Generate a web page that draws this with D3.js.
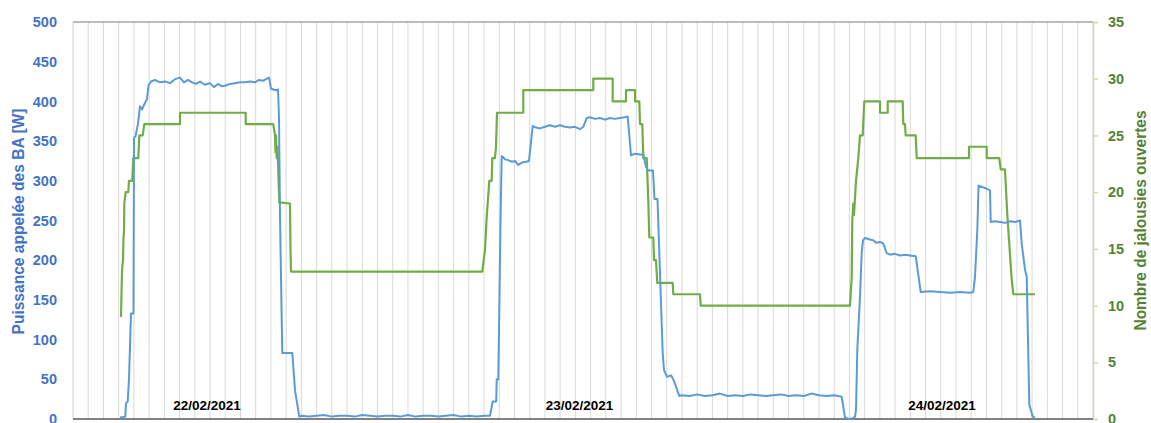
<!DOCTYPE html>
<html><head><meta charset="utf-8">
<script src="https://cdn.jsdelivr.net/npm/d3@7"></script>
<style>
html,body{margin:0;padding:0;background:#fff;}
svg{display:block;font-family:"Liberation Sans",Arial,sans-serif;}
</style></head>
<body><svg id="c" width="1151" height="423"></svg>
<script>
// ---- data ----
const powerHours = [3.087,3.435,3.481,3.593,3.678,3.810,3.974,4.007,4.105,4.270,4.401,4.532,4.729,4.861,4.959,5.124,5.386,5.715,6.043,6.372,6.700,7.028,7.291,7.554,7.817,8.079,8.342,8.671,8.999,9.262,9.524,9.787,10.050,10.313,10.641,10.970,11.298,11.626,11.955,12.218,12.480,12.677,12.875,13.006,13.334,13.466,13.531,13.597,13.748,14.405,14.471,14.582,14.865,
15.0,15.5,16.0,16.5,17.0,17.5,18.0,18.5,19.0,19.5,20.0,20.5,21.0,21.5,22.0,22.5,23.0,23.5,24.0,24.5,25.0,25.5,26.0,26.5,27.0,
27.392,27.569,27.799,27.832,27.937,28.094,28.160,28.245,28.377,28.574,28.837,29.034,29.231,29.494,29.756,29.953,30.196,30.413,30.676,31.004,31.333,31.661,31.989,32.318,32.646,32.974,33.303,33.520,33.743,33.960,34.289,34.617,34.945,35.274,35.602,35.931,36.259,36.436,36.653,36.916,37.244,37.461,37.638,37.769,38.098,38.196,38.393,38.735,38.820,39.017,39.280,39.477,39.825,
40.0,40.5,41.0,41.5,42.0,42.5,43.0,43.5,44.0,44.5,45.0,45.5,46.0,46.5,47.0,47.5,48.0,48.5,49.0,49.5,50.0,
50.491,50.708,50.971,51.234,51.366,51.432,51.517,51.695,51.806,51.892,52.023,52.352,52.569,52.746,53.009,53.226,53.449,53.666,53.994,54.323,54.651,54.980,55.354,55.683,56.294,56.951,57.607,58.264,58.921,59.138,59.249,59.401,59.479,59.906,60.235,60.281,60.564,60.892,61.221,61.549,61.877,62.206,62.318,62.534,62.646,62.817,63.040,63.190];
const powerW = [2,3,20,22,50,133,133,354,356,372,394,390,398,403,420,425,427,424,425,423,428,430,424,427,424,422,425,421,423,418,422,419,420,422,423,424,424,425,424,427,426,428,430,416,414,415,380,255,83,83,66,36,3,
4,3,4,5,3,4,4,3,5,4,3,4,4,3,5,3,4,4,3,4,5,3,4,3,4,
4,22,22,50,50,263,331,330,327,326,324,325,320,323,324,325,369,367,366,368,370,368,370,368,367,368,365,368,379,380,378,379,377,379,378,379,380,381,332,334,333,333,318,313,313,277,277,83,62,53,55,48,29,
30,29,31,29,30,32,29,30,29,31,30,29,30,31,29,30,29,32,30,29,30,
28,2,0,1,3,11,87,154,209,225,228,226,225,222,223,221,209,207,208,206,207,206,205,160,161,160,159,160,159,160,179,238,294,291,288,248,249,248,247,249,248,250,221,188,179,18,3,2];

const blindHours = [3.153,3.219,3.284,3.317,3.350,3.370,3.462,3.632,3.678,3.895,3.961,4.289,4.355,4.578,4.683,7.028,7.028,11.344,11.344,13.157,13.269,13.301,13.334,13.380,13.433,13.551,14.254,14.287,14.320,
26.885,27.063,27.174,27.345,27.503,27.542,27.719,27.785,27.851,29.578,29.578,34.176,34.176,35.451,35.451,36.324,36.324,36.916,36.916,37.198,37.244,37.395,37.461,37.684,37.789,37.855,38.118,38.164,38.295,38.381,39.392,39.431,41.185,41.231,
51.038,51.150,51.189,51.255,51.301,51.347,51.432,51.583,51.695,51.872,51.978,53.009,53.009,53.514,53.514,54.500,54.539,54.651,54.697,55.354,55.420,58.855,58.855,60.017,60.017,60.845,60.937,61.219,61.371,61.660,61.765,63.190];
const blindCount = [9,13.1,14,16,16.5,19,20,20,21,21,23,23,25,25,26,26,27,27,26,26,25,23.5,25,23,24,19.1,19,15,13,
13,14.9,17.8,21,21,23,23,24,27,27,29,29,30,30,28,28,29,29,28,28,26,26,23,23,19.3,16,16,14,14,12,12,11,11,10,
10,12.5,17.5,19,18,19,21,23,25,25,28,28,27,27,28,28,26,26,25,25,23,23,24,24,23,23,22,22,18,12.3,11,11];

const leftTicks = [0,50,100,150,200,250,300,350,400,450,500];
const rightTicks = [0,5,10,15,20,25,30,35];
const hourGrid = d3.range(0, 68);
const dateLabels = ["22/02/2021","23/02/2021","24/02/2021"];
const dateLabelHours = [8.80,33.27,57.08];
const leftTitle = "Puissance appelée des BA [W]";
const rightTitle = "Nombre de jalousies ouvertes";

// ---- layout ----
const svg = d3.select("#c");
const L = 73, R = 1093, T = 22, B = 419;
const x = d3.scaleLinear().domain([0, 67]).range([L, R]);
const yL = d3.scaleLinear().domain([0, 500]).range([B, T]);
const yR = d3.scaleLinear().domain([0, 35]).range([B, T]);

const blueTxt = "#4472C4", greenTxt = "#548235";
const blueLine = "#5B9BD5", greenLine = "#70AD47";

// gridlines
svg.append("g").selectAll("line").data(hourGrid.slice(1)).join("line")
  .attr("x1", d => x(d)).attr("x2", d => x(d)).attr("y1", T).attr("y2", B)
  .attr("stroke", "#d9d9d9").attr("stroke-width", 1);

// left axis line
svg.append("line").attr("x1", L).attr("x2", L).attr("y1", T).attr("y2", B)
  .attr("stroke", "#d0d0d0").attr("stroke-width", 1);
// top border
svg.append("line").attr("x1", L).attr("x2", R).attr("y1", T).attr("y2", T)
  .attr("stroke", "#a6a6a6").attr("stroke-width", 1.5);

// left tick labels
const gl = svg.append("g").attr("transform", `translate(${L},0)`)
  .call(d3.axisLeft(yL).tickValues(leftTicks).tickSize(0).tickPadding(16));
gl.select(".domain").remove();
gl.selectAll("text").attr("fill", blueTxt).attr("font-size", "14.5px").attr("font-weight", "bold")
  .attr("font-family", '"Liberation Sans",Arial,sans-serif');

// right axis
const gr = svg.append("g").attr("transform", `translate(${R},0)`)
  .call(d3.axisRight(yR).tickValues(rightTicks).tickSize(5).tickPadding(10));
gr.select(".domain").attr("stroke", "#c5e0b4").attr("stroke-width", 1.5);
gr.selectAll(".tick line").attr("stroke", "#c5e0b4").attr("stroke-width", 1.5);
gr.selectAll("text").attr("fill", greenTxt).attr("font-size", "14.5px").attr("font-weight", "bold")
  .attr("font-family", '"Liberation Sans",Arial,sans-serif');

// bottom axis
svg.append("line").attr("x1", L).attr("x2", R).attr("y1", B).attr("y2", B)
  .attr("stroke", "#595959").attr("stroke-width", 1.5);

// series
const powerData = powerHours.map((h, i) => [h, powerW[i]]);
const blindData = blindHours.map((h, i) => [h, blindCount[i]]);

svg.append("path").datum(blindData)
  .attr("d", d3.line().x(d => x(d[0])).y(d => yR(d[1])))
  .attr("fill", "none").attr("stroke", greenLine).attr("stroke-width", 2.2)
  .attr("stroke-linejoin", "round");
svg.append("path").datum(powerData)
  .attr("d", d3.line().x(d => x(d[0])).y(d => yL(d[1])))
  .attr("fill", "none").attr("stroke", blueLine).attr("stroke-width", 2)
  .attr("stroke-linejoin", "round");

// date labels
svg.append("g").selectAll("text").data(dateLabels).join("text")
  .attr("x", (d, i) => x(dateLabelHours[i])).attr("y", 410)
  .attr("text-anchor", "middle").attr("font-size", "13.5px").attr("font-weight", "bold")
  .attr("fill", "#000").text(d => d);

// titles
svg.append("text").attr("transform", `translate(24,${(T+B)/2+1}) rotate(-90)`)
  .attr("text-anchor", "middle").attr("font-size", "16px").attr("font-weight", "bold")
  .attr("fill", blueTxt).attr("textLength", 226).attr("lengthAdjust", "spacingAndGlyphs")
  .text(leftTitle);
svg.append("text").attr("transform", `translate(1146,${(T+B)/2}) rotate(-90)`)
  .attr("text-anchor", "middle").attr("font-size", "16px").attr("font-weight", "bold")
  .attr("fill", greenTxt).attr("textLength", 220).attr("lengthAdjust", "spacingAndGlyphs")
  .text(rightTitle);
</script>
</body></html>
